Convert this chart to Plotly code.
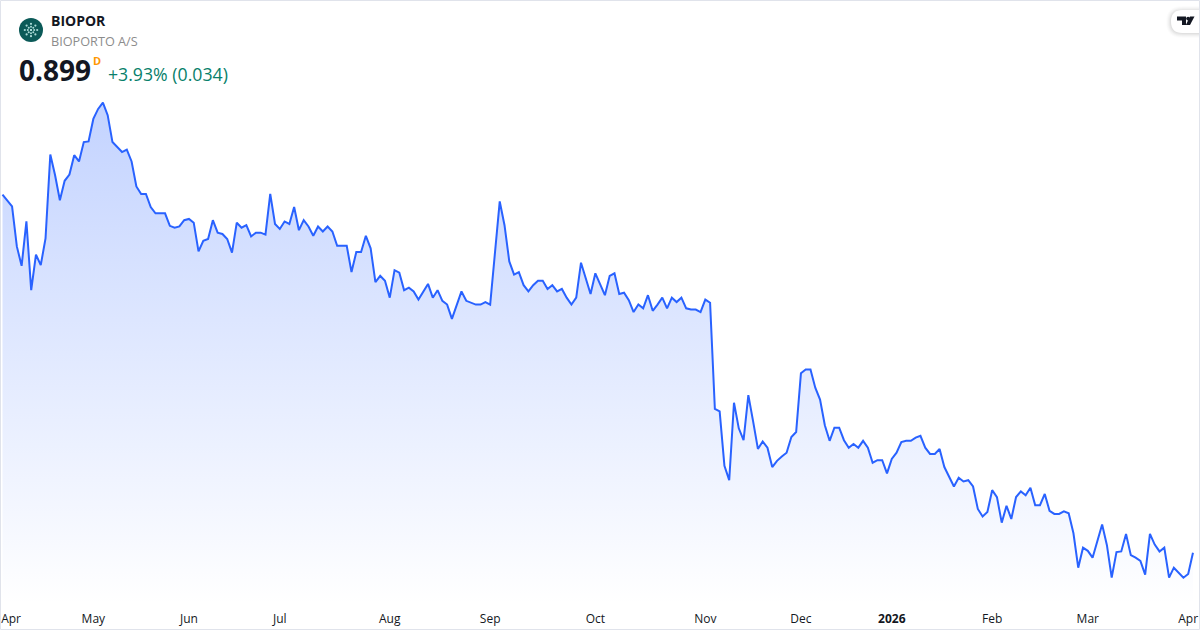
import math
import plotly.graph_objects as go

# Daily closes (250 sessions)
close = [
    1.472, 1.463, 1.453, 1.389, 1.358, 1.429, 1.319, 1.376, 1.359, 1.402,
    1.536, 1.503, 1.463, 1.494, 1.504, 1.535, 1.525, 1.556, 1.557, 1.593,
    1.609, 1.619, 1.599, 1.556, 1.548, 1.540, 1.544, 1.525, 1.485, 1.473,
    1.473, 1.452, 1.442, 1.442, 1.442, 1.422, 1.419, 1.421, 1.431, 1.433,
    1.427, 1.381, 1.398, 1.401, 1.431, 1.411, 1.409, 1.401, 1.379, 1.427,
    1.419, 1.423, 1.405, 1.411, 1.411, 1.408, 1.473, 1.425, 1.417, 1.429,
    1.425, 1.452, 1.415, 1.431, 1.421, 1.406, 1.421, 1.413, 1.421, 1.413,
    1.390, 1.390, 1.390, 1.348, 1.380, 1.380, 1.406, 1.386, 1.332, 1.342,
    1.334, 1.307, 1.351, 1.347, 1.319, 1.323, 1.317, 1.304, 1.317, 1.329,
    1.307, 1.319, 1.302, 1.296, 1.273, 1.295, 1.317, 1.302, 1.299, 1.296,
    1.296, 1.300, 1.296, 1.379, 1.461, 1.423, 1.365, 1.344, 1.348, 1.327,
    1.317, 1.327, 1.334, 1.334, 1.321, 1.327, 1.317, 1.321, 1.307, 1.296,
    1.307, 1.363, 1.339, 1.313, 1.346, 1.327, 1.311, 1.342, 1.346, 1.313,
    1.315, 1.303, 1.284, 1.296, 1.290, 1.311, 1.286, 1.296, 1.307, 1.290,
    1.307, 1.300, 1.307, 1.290, 1.288, 1.288, 1.284, 1.304, 1.299, 1.129,
    1.125, 1.038, 1.015, 1.139, 1.098, 1.079, 1.151, 1.109, 1.065, 1.077,
    1.067, 1.036, 1.046, 1.053, 1.059, 1.084, 1.092, 1.186, 1.192, 1.192,
    1.163, 1.144, 1.103, 1.078, 1.099, 1.099, 1.079, 1.067, 1.073, 1.067,
    1.078, 1.067, 1.043, 1.047, 1.047, 1.026, 1.049, 1.059, 1.076, 1.078,
    1.078, 1.083, 1.086, 1.067, 1.057, 1.057, 1.065, 1.036, 1.020, 1.005,
    1.019, 1.013, 1.015, 1.005, 0.969, 0.957, 0.964, 0.999, 0.988, 0.947,
    0.974, 0.953, 0.988, 0.997, 0.991, 1.003, 0.975, 0.975, 0.993, 0.966,
    0.961, 0.961, 0.965, 0.962, 0.930, 0.875, 0.907, 0.902, 0.891, 0.919,
    0.944, 0.911, 0.859, 0.900, 0.901, 0.929, 0.895, 0.891, 0.886, 0.864,
    0.929, 0.912, 0.901, 0.907, 0.859, 0.875, 0.867, 0.859, 0.865, 0.899,
]
sessions = list(range(len(close)))

# Month labels and the session they sit under
tick_pos = [1.8, 19, 39, 58, 81, 102, 124, 147, 167, 186, 207, 227, 248]
tick_text = ["Apr", "May", "Jun", "Jul", "Aug", "Sep", "Oct", "Nov", "Dec",
             "<b>2026</b>", "Feb", "Mar", "Apr"]

FONT = "Open Sans"
BOTTOM = 605  # px where the plot area ends


def px(x):
    return x / 1200


def py(y):
    return 1 - y / BOTTOM


def pill(left, top, bottom, right=1200):
    # badge shape: round on the left, running off the right edge
    r = (bottom - top) / 2
    return (f"M {px(right)},{py(top)} L {px(left + r)},{py(top)} "
            f"Q {px(left)},{py(top)} {px(left)},{py(top + r)} "
            f"Q {px(left)},{py(bottom)} {px(left + r)},{py(bottom)} "
            f"L {px(right)},{py(bottom)} Z")


fig = go.Figure()

fig.add_trace(go.Scatter(
    x=sessions,
    y=close,
    mode="lines",
    line=dict(color="#2962FF", width=2),
    fill="tozeroy",
    fillgradient=dict(
        type="vertical",
        colorscale=[[0, "rgba(41,98,255,0)"], [1, "rgba(41,98,255,0.28)"]],
        start=0.8153,
        stop=max(close),
    ),
    hoverinfo="skip",
))

shapes = []

# Company logo: dark disc with a small ring of dots
shapes.append(dict(type="circle", xref="paper", yref="paper",
                   x0=px(19), x1=px(43), y0=py(42), y1=py(18),
                   line=dict(width=0), fillcolor="#0B5A58"))
for radius, size in [(0, 1.0), (3.2, 1.0), (6.2, 1.1)]:
    for k in range(8):
        a = k * math.pi / 4
        cx = 31 + radius * math.cos(a)
        cy = 30 + radius * math.sin(a)
        shapes.append(dict(type="circle", xref="paper", yref="paper",
                           x0=px(cx - size), x1=px(cx + size),
                           y0=py(cy + size), y1=py(cy - size),
                           line=dict(width=0), fillcolor="#A9DAD6"))

# Badge with soft shadow, top right
for grow, alpha in [(5, 0.012), (4, 0.018), (3, 0.025), (2, 0.03), (1, 0.035)]:
    shapes.append(dict(type="path", path=pill(1171 - grow, 10 - grow + 1, 33 + grow),
                       xref="paper", yref="paper",
                       line=dict(width=0), fillcolor=f"rgba(0,0,0,{alpha})"))
shapes.append(dict(type="path", path=pill(1171, 10, 33, right=1199),
                   xref="paper", yref="paper",
                   line=dict(width=0), fillcolor="#FFFFFF"))
logo_t = [(1177, 16.5), (1186, 16.5), (1186, 25), (1182, 25), (1182, 20.5), (1177, 20.5)]
logo_v = [(1190, 16.5), (1194.5, 16.5), (1190, 25), (1185.8, 25)]
for poly in (logo_t, logo_v):
    path = "M " + " L ".join(f"{px(a):.5f},{py(b):.5f}" for a, b in poly) + " Z"
    shapes.append(dict(type="path", path=path, xref="paper", yref="paper",
                       line=dict(width=0), fillcolor="#131722"))
shapes.append(dict(type="circle", xref="paper", yref="paper",
                   x0=px(1186.2), x1=px(1190), y0=py(20.5), y1=py(16.7),
                   line=dict(width=0), fillcolor="#131722"))

# Outer frame
shapes.append(dict(type="rect", xref="paper", yref="paper",
                   x0=px(0.5), x1=px(1199.5), y0=py(629.5), y1=py(0.5),
                   line=dict(color="#E0E3EB", width=1), fillcolor="rgba(0,0,0,0)"))


def label(x, y, text, size, color, bold=False):
    fig.add_annotation(
        x=px(x), y=py(y), xref="paper", yref="paper",
        text=f"<b>{text}</b>" if bold else text,
        showarrow=False, xanchor="left", yanchor="middle",
        font=dict(family=FONT, size=size, color=color),
        borderpad=0, borderwidth=0,
    )


label(51, 21, "BIOPOR", 14, "#131722", bold=True)
label(51, 41, "BIOPORTO A/S", 12.7, "#8C8C8C")
label(19, 70, "0.899", 28, "#131722", bold=True)
label(93, 61, "D", 11, "#FF9800", bold=True)
label(108, 74, "+3.93% (0.034)", 17.7, "#087F6B")

fig.update_layout(
    width=1200,
    height=630,
    margin=dict(l=0, r=0, t=0, b=25, pad=0),
    paper_bgcolor="#FFFFFF",
    plot_bgcolor="#FFFFFF",
    showlegend=False,
    shapes=shapes,
)
fig.update_xaxes(
    range=[-0.523, 250.47],
    tickvals=tick_pos,
    ticktext=tick_text,
    ticks="",
    ticklabelstandoff=5,
    showgrid=False,
    zeroline=False,
    showline=False,
    tickangle=0,
    tickfont=dict(family=FONT, size=12, color="#131722"),
)
fig.update_yaxes(
    range=[0.8153, 1.7833],
    showticklabels=False,
    ticks="",
    showgrid=False,
    zeroline=False,
    showline=False,
)

fig.write_html(
    "out.html",
    config=dict(displayModeBar=False),
    post_script="document.body.style.margin='0';",
)
